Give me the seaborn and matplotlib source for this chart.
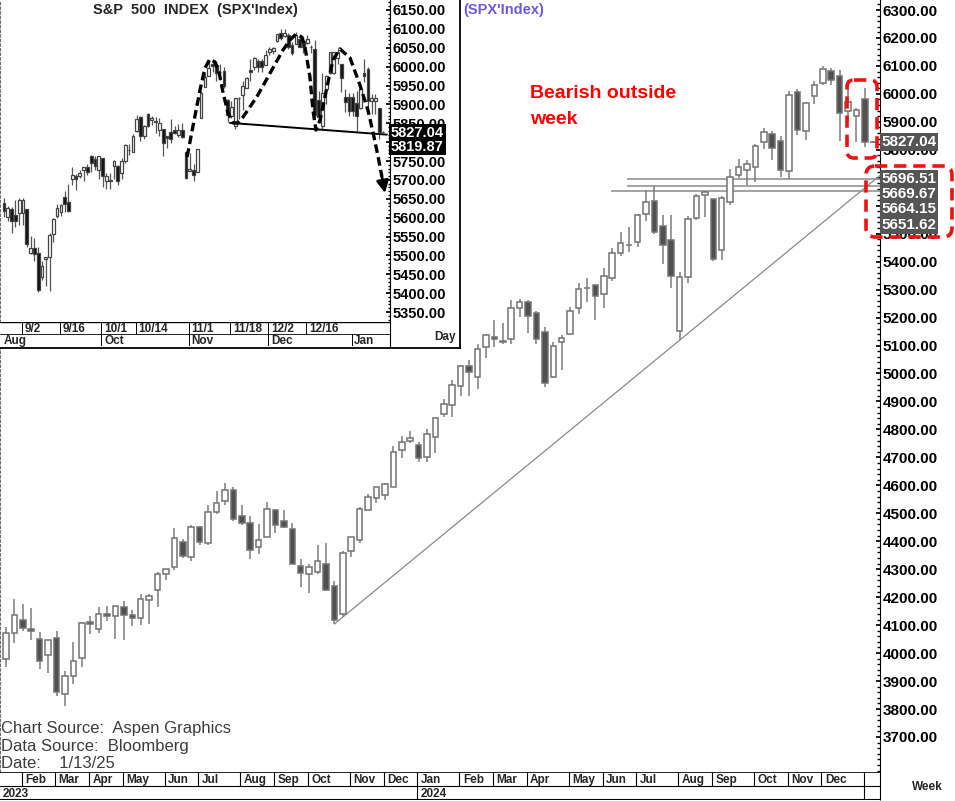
import numpy as np
import pandas as pd
import matplotlib
matplotlib.use("Agg")
import matplotlib.pyplot as plt
import seaborn as sns
from matplotlib.patches import FancyBboxPatch
from matplotlib.ticker import MultipleLocator
from matplotlib.transforms import blended_transform_factory

# ---------------- weekly SPX candles (Jan 23 2023 .. Jan 13 2025) ----------------
week_start = pd.date_range("2023-01-23", periods=104, freq="W-MON")
wk_open = [3978, 4071, 4119, 4085, 4052, 3993, 4055, 3855, 3917, 3982, 4110, 4085, 4140,
           4134, 4166, 4136, 4126, 4190, 4226, 4283, 4308, 4397, 4344, 4450, 4394, 4505,
           4543, 4585, 4491, 4464, 4381, 4415, 4510, 4473, 4445, 4311, 4284, 4289, 4320,
           4239, 4140, 4365, 4406, 4511, 4555, 4564, 4593, 4725, 4758, 4745, 4703, 4772,
           4854, 4886, 4957, 5026, 4989, 5094, 5130, 5111, 5123, 5235, 5257, 5217, 5149,
           4988, 5114, 5142, 5233, 5305, 5315, 5283, 5341, 5432, 5460, 5471, 5572, 5616,
           5528, 5477, 5151, 5345, 5557, 5639, 5623, 5442, 5615, 5711, 5726, 5737, 5829,
           5857, 5833, 5725, 6008, 5869, 5992, 6040, 6083, 6063, 5940, 5920, 5982, 5827]
wk_high = [4095, 4195, 4176, 4163, 4074, 4048, 4079, 3937, 4039, 4110, 4133, 4164, 4170,
           4170, 4187, 4155, 4213, 4213, 4290, 4299, 4448, 4409, 4458, 4456, 4528, 4578,
           4607, 4595, 4528, 4490, 4462, 4541, 4514, 4511, 4466, 4338, 4320, 4385, 4394,
           4259, 4366, 4415, 4521, 4568, 4595, 4609, 4739, 4778, 4793, 4755, 4802, 4842,
           4907, 4975, 5030, 5048, 5104, 5140, 5190, 5179, 5262, 5265, 5264, 5222, 5168,
           5114, 5139, 5239, 5325, 5342, 5315, 5376, 5447, 5506, 5524, 5570, 5655, 5670,
           5566, 5566, 5362, 5564, 5643, 5651, 5623, 5636, 5733, 5767, 5763, 5822, 5878,
           5866, 5850, 6012, 6017, 5972, 6045, 6100, 6092, 6085, 6049, 5949, 6021, 5832]
wk_low = [3949, 4037, 4079, 4048, 3943, 3928, 3846, 3809, 3889, 3951, 4069, 4072, 4114,
          4049, 4048, 4098, 4099, 4103, 4166, 4261, 4298, 4341, 4328, 4385, 4385, 4498,
          4528, 4474, 4458, 4335, 4356, 4415, 4431, 4446, 4317, 4238, 4216, 4284, 4223,
          4104, 4128, 4342, 4393, 4511, 4537, 4546, 4593, 4697, 4751, 4682, 4682, 4714,
          4845, 4845, 4918, 4920, 4946, 5057, 5094, 5105, 5107, 5203, 5146, 5107, 4953,
          4985, 5012, 5142, 5211, 5257, 5191, 5234, 5331, 5420, 5433, 5452, 5546, 5498,
          5391, 5306, 5119, 5324, 5550, 5560, 5403, 5406, 5604, 5698, 5675, 5686, 5804,
          5762, 5703, 5696, 5853, 5836, 5963, 6030, 6030, 5832, 5902, 5829, 5809, 5825]
wk_close = [4071, 4136, 4090, 4079, 3970, 4046, 3862, 3917, 3971, 4109, 4105, 4138, 4134,
            4169, 4136, 4124, 4192, 4205, 4282, 4299, 4410, 4348, 4450, 4399, 4505, 4536,
            4582, 4478, 4464, 4370, 4406, 4516, 4457, 4450, 4320, 4288, 4309, 4328, 4224,
            4117, 4358, 4415, 4514, 4559, 4595, 4604, 4719, 4755, 4770, 4697, 4784, 4840,
            4891, 4959, 5027, 5006, 5089, 5137, 5124, 5117, 5234, 5254, 5204, 5123, 4967,
            5100, 5128, 5223, 5303, 5305, 5278, 5347, 5432, 5465, 5460, 5567, 5615, 5505,
            5459, 5347, 5344, 5554, 5635, 5648, 5408, 5626, 5703, 5738, 5751, 5815, 5865,
            5808, 5729, 5996, 5871, 5969, 6032, 6090, 6051, 5931, 5971, 5942, 5827, 5829]

# trendline anchored on two weekly lows, horizontal support levels
trend_weeks = [39, 80]
support_levels = [5696.51, 5669.67, 5651.62]
support_start_week = [73.8, 73.8, 71.8]
main_last = 5827.04
main_levels_text = ["5696.51", "5669.67", "5664.15", "5651.62"]

# ---------------- daily SPX candles for the inset (Aug 26 2024 .. Jan 13 2025) ----------------
day_slots = pd.bdate_range("2024-08-26", "2025-01-13")
holidays = ["2024-09-02", "2024-11-28", "2024-12-25", "2025-01-01", "2025-01-09"]
d_open = [5639, 5602, 5624, 5607, 5612, 5623, 5506, 5520, 5507, 5442, 5490, 5496, 5557,
          5603, 5615, 5655, 5641, 5703, 5709, 5711, 5727, 5733, 5762, 5755, 5726, 5757,
          5698, 5698, 5737, 5737, 5719, 5751, 5778, 5775, 5829, 5866, 5816, 5875, 5859,
          5857, 5832, 5834, 5816, 5827, 5833, 5819, 5832, 5775, 5723, 5725, 5722, 5864,
          5947, 5976, 6008, 6003, 5985, 5989, 5912, 5869, 5844, 5918, 5924, 5944, 5992,
          6000, 6015, 6003, 6040, 6042, 6069, 6089, 6081, 6083, 6057, 6060, 6074, 6068,
          6063, 6052, 6047, 5912, 5843, 5940, 5984, 6024, 6006, 5920, 5920, 5903, 5891,
          5982, 5994, 5910, 5890, 5827]
d_high = [5651, 5631, 5628, 5646, 5651, 5623, 5552, 5546, 5522, 5484, 5497, 5560, 5600,
          5636, 5636, 5670, 5689, 5733, 5715, 5725, 5735, 5741, 5767, 5764, 5763, 5757,
          5719, 5718, 5753, 5739, 5757, 5796, 5795, 5822, 5871, 5870, 5846, 5878, 5870,
          5866, 5863, 5835, 5817, 5862, 5842, 5847, 5850, 5775, 5772, 5741, 5783, 5936,
          5983, 6012, 6017, 6009, 6008, 6000, 5915, 5909, 5917, 5920, 5963, 5972, 6020,
          6025, 6021, 6045, 6053, 6052, 6087, 6099, 6100, 6088, 6066, 6092, 6079, 6078,
          6085, 6057, 6070, 5935, 5982, 5978, 6040, 6049, 6006, 5941, 5929, 5935, 5949,
          6021, 6000, 5927, 5890, 5829]
d_low = [5602, 5590, 5560, 5576, 5581, 5521, 5503, 5485, 5403, 5434, 5420, 5406, 5535,
         5598, 5604, 5615, 5615, 5686, 5674, 5704, 5698, 5714, 5721, 5727, 5703, 5681,
         5677, 5675, 5702, 5686, 5703, 5745, 5765, 5775, 5827, 5804, 5808, 5840, 5846,
         5824, 5816, 5762, 5784, 5799, 5822, 5814, 5811, 5703, 5723, 5696, 5722, 5864,
         5947, 5976, 5986, 5961, 5965, 5944, 5853, 5865, 5836, 5860, 5884, 5944, 5963,
         5992, 5985, 6003, 6030, 6034, 6064, 6070, 6079, 6048, 6030, 6060, 6051, 6035,
         6059, 6035, 5867, 5866, 5832, 5902, 5981, 6007, 5932, 5879, 5868, 5829, 5888,
         5960, 5890, 5874, 5809, 5824]
d_close = [5617, 5626, 5592, 5592, 5648, 5529, 5520, 5503, 5408, 5471, 5496, 5554, 5596,
           5626, 5633, 5635, 5618, 5714, 5703, 5719, 5733, 5722, 5745, 5738, 5762, 5709,
           5710, 5700, 5751, 5696, 5751, 5792, 5780, 5815, 5860, 5815, 5843, 5842, 5865,
           5854, 5851, 5797, 5810, 5808, 5824, 5833, 5814, 5706, 5729, 5713, 5783, 5929,
           5973, 5996, 6001, 5984, 5985, 5949, 5871, 5894, 5917, 5917, 5949, 5969, 5987,
           6022, 5999, 6032, 6047, 6050, 6087, 6075, 6090, 6053, 6035, 6084, 6051, 6051,
           6074, 6051, 5872, 5867, 5931, 5974, 6040, 6038, 5971, 5907, 5882, 5869, 5942,
           5975, 5909, 5918, 5827, 5827]

day_tick_labels = ["9/2", "9/16", "10/1", "10/14", "11/1", "11/18", "12/2", "12/16"]
day_tick_dates = ["2024-09-02", "2024-09-16", "2024-10-01", "2024-10-14", "2024-11-01",
                  "2024-11-18", "2024-12-02", "2024-12-16"]
inset_month_labels = ["Oct", "Nov", "Dec", "Jan"]
inset_month_dates = ["2024-10-01", "2024-11-01", "2024-12-02", "2025-01-01"]
inset_last = ["5827.04", "5819.87"]

# head & shoulders sketch (slot, price) and neckline
hs_slot = [48.3, 49.9, 51.7, 53.0, 54.3, 55.7, 56.7, 57.8, 59.1, 60.4, 61.7, 63.1, 66.7,
           70.2, 73.6, 75.5, 77.0, 78.6, 79.4, 80.7, 81.5, 82.3, 83.4, 85.2, 86.8, 88.6,
           91.3, 93.9, 96.0, 97.4, 98.7, 99.7]
hs_price = [5761, 5845, 5938, 5996, 6020, 6012, 5986, 5930, 5877, 5851, 5851, 5867, 5920,
            5983, 6044, 6071, 6086, 6078, 6052, 5973, 5885, 5832, 5859, 5946, 6018, 6047,
            6023, 5951, 5885, 5824, 5761, 5708]
hs_tip = (100.5, 5665)
neck_slot = [59.6, 101.0]
neck_price = [5851, 5819.87]

# ---------------- layout helpers ----------------
W, H = 955, 801
MX0, MSTEP = 6, 8.42          # main chart: px of first week, px per week
IX0, ISTEP = 23, 3.79         # inset: px of 9/2 slot, px per weekday

sns.set_theme(style="white")
plt.rcParams["font.family"] = ["Liberation Sans", "DejaVu Sans"]

fig = plt.figure(figsize=(W / 100, H / 100), dpi=100)


def px_rect(x0, y0, x1, y1):
    return [x0 / W, 1 - y1 / H, (x1 - x0) / W, (y1 - y0) / H]


def draw_candles(ax, x, o, h, l, c, width, up_fc, dn_fc, edge, wick, lw):
    o, h, l, c = (np.asarray(v, dtype=float) for v in (o, h, l, c))
    up = c >= o
    ax.vlines(x, l, h, color=wick, lw=lw, zorder=2)
    ax.bar(x, np.abs(c - o), width, bottom=np.minimum(o, c),
           color=np.where(up, up_fc, dn_fc), edgecolor=edge, linewidth=lw, zorder=3)


# ---------------- main weekly chart ----------------
ax = fig.add_axes(px_rect(0, 0, 880, 772))
wx = np.arange(len(week_start))
draw_candles(ax, wx, wk_open, wk_high, wk_low, wk_close, 0.66,
             "white", "#505050", "#737373", "#7c7c7c", 1.1)
ax.set_xlim(-MX0 / MSTEP, (880 - MX0) / MSTEP)
ax.set_ylim(6300 - 762 / 0.2796, 6300 + 10 / 0.2796)

# trendline from the two swing lows, extended to the right edge
t0, t1 = trend_weeks
slope = (wk_low[t1] - wk_low[t0]) / (t1 - t0)
x_end = ax.get_xlim()[1]
trend = pd.DataFrame({"x": [t0, x_end], "y": [wk_low[t0], wk_low[t0] + slope * (x_end - t0)]})
sns.lineplot(data=trend, x="x", y="y", ax=ax, color="#8a8a8a", lw=0.9, zorder=1)
for lvl, xs in zip(support_levels, support_start_week):
    ax.hlines(lvl, xs, x_end, color="#8a8a8a", lw=1.1, zorder=1)

ax.yaxis.tick_right()
ax.set_yticks(np.arange(3700, 6301, 100))
ax.set_yticklabels([f"{v:.2f}" for v in np.arange(3700, 6301, 100)])
ax.yaxis.set_minor_locator(MultipleLocator(20))
ax.tick_params(axis="y", which="major", length=3, pad=2, labelsize=11, direction="in", colors="black")
ax.tick_params(axis="y", which="minor", length=2, direction="in", color="black")
for t in ax.get_yticklabels():
    t.set_fontweight("bold")
ax.set_xticks([])
ax.set_xlabel("")
ax.set_ylabel("")
for s in ["top", "bottom"]:
    ax.spines[s].set_visible(False)
ax.spines["right"].set_color("black")
ax.spines["right"].set_linewidth(0.8)
ax.spines["left"].set_linestyle(":")
ax.spines["left"].set_color("#555555")

bt = blended_transform_factory(ax.transAxes, ax.transData)
ax.text(1.0 + 1.5 / 880, main_last, f"{main_last:.2f}", transform=bt, ha="left", va="center",
        color="white", fontsize=11, fontweight="bold", zorder=10, clip_on=False,
        bbox=dict(boxstyle="square,pad=0.12", fc="#555555", ec="none"))
ax.annotate("\n".join(main_levels_text), xy=(1.0 + 1.5 / 880, support_levels[0]), xycoords=bt,
            xytext=(0, 5), textcoords="offset points", ha="left", va="top", color="white",
            fontsize=11, fontweight="bold", linespacing=1.12, zorder=10, annotation_clip=False,
            bbox=dict(boxstyle="square,pad=0.12", fc="#555555", ec="none"))

# main date band
axb = fig.add_axes(px_rect(0, 772, 880, 800))
axb.set_xlim(ax.get_xlim())
axb.set_ylim(2, 0)
axb.axis("off")
axb.axhline(0, color="black", lw=1.2)
axb.axhline(1, color="black", lw=0.8)
axb.axhline(2, color="black", lw=1.5)
months = pd.Series(week_start.month)
month_idx = [i for i in range(1, len(week_start)) if months[i] != months[i - 1]]
for i in month_idx:
    axb.vlines(i - 0.15, 0, 1, color="black", lw=0.8)
    if i <= 100:
        axb.text(i + 0.25, 0.55, week_start[i].strftime("%b"), ha="left", va="center",
                 fontsize=8.5, fontweight="bold")
year_idx = [i for i in month_idx if week_start[i].month == 1]
axb.text(axb.get_xlim()[0] + 0.3, 1.55, str(week_start[0].year), ha="left", va="center",
         fontsize=8.5, fontweight="bold")
for i in year_idx:
    axb.vlines(i - 0.15, 1, 2, color="black", lw=0.8)
    if i <= 100:
        axb.text(i + 0.25, 1.55, str(week_start[i].year), ha="left", va="center",
                 fontsize=8.5, fontweight="bold")

# ---------------- inset daily chart ----------------
bg = fig.add_axes(px_rect(0, 0, 460, 348))
bg.set_facecolor("white")
bg.set_xticks([])
bg.set_yticks([])
for s in ["top", "left"]:
    bg.spines[s].set_visible(False)
for s in ["right", "bottom"]:
    bg.spines[s].set_color("black")
    bg.spines[s].set_linewidth(1.3)

daily = pd.DataFrame({"o": d_open, "h": d_high, "l": d_low, "c": d_close},
                     index=day_slots.drop(pd.to_datetime(holidays)))
daily = daily.reindex(day_slots).ffill()
slot = np.arange(len(day_slots))
slot0 = day_slots.get_loc(pd.Timestamp("2024-09-02"))

axi = fig.add_axes(px_rect(0, 0, 390, 322))
axi.set_facecolor("white")
draw_candles(axi, slot, daily["o"], daily["h"], daily["l"], daily["c"], 0.72,
             "white", "#111111", "#444444", "#555555", 0.9)
axi.set_xlim(slot0 - IX0 / ISTEP, slot0 + (390 - IX0) / ISTEP)
axi.set_ylim(6150 - 312 * 2.649, 6150 + 10 * 2.649)

axi.plot(hs_slot, hs_price, color="black", lw=2.4, ls=(0, (2.6, 1.3)), zorder=5,
         solid_capstyle="butt", dash_capstyle="butt")
axi.annotate("", xy=hs_tip, xytext=(hs_slot[-1], hs_price[-1]),
             arrowprops=dict(arrowstyle="-|>,head_width=0.3,head_length=0.6", color="black",
                             lw=2.0, shrinkA=0, shrinkB=0), zorder=5)
sns.lineplot(x=neck_slot, y=neck_price, ax=axi, color="black", lw=1.4, zorder=5)

axi.yaxis.tick_right()
iticks = np.arange(5350, 6151, 50)
axi.set_yticks(iticks)
axi.set_yticklabels([f"{v:.2f}" for v in iticks])
axi.yaxis.set_minor_locator(MultipleLocator(10))
axi.tick_params(axis="y", which="major", length=3, pad=2, labelsize=10.5, direction="in", colors="black")
axi.tick_params(axis="y", which="minor", length=1.5, direction="in", color="black")
for t in axi.get_yticklabels():
    t.set_fontweight("bold")
axi.set_xticks([])
axi.set_xlabel("")
axi.set_ylabel("")
for s in ["top", "bottom"]:
    axi.spines[s].set_visible(False)
axi.spines["right"].set_color("black")
axi.spines["right"].set_linewidth(0.8)
axi.spines["left"].set_linestyle(":")
axi.spines["left"].set_color("#555555")

bti = blended_transform_factory(axi.transAxes, axi.transData)
axi.annotate("\n".join(inset_last), xy=(1.0 + 1 / 390, main_last), xycoords=bti,
             xytext=(0, 4.5), textcoords="offset points", ha="left", va="top", color="white",
             fontsize=10.5, fontweight="bold", linespacing=1.0, zorder=10, annotation_clip=False,
             bbox=dict(boxstyle="square,pad=0.12", fc="black", ec="none"))

axib = fig.add_axes(px_rect(0, 322, 390, 346))
axib.set_xlim(axi.get_xlim())
axib.set_ylim(2, 0)
axib.axis("off")
axib.axhline(0, color="black", lw=1.0)
axib.axhline(1, color="black", lw=0.6)
for lab, d in zip(day_tick_labels, day_tick_dates):
    s = day_slots.get_loc(pd.Timestamp(d))
    axib.vlines(s - 0.3, 0, 1, color="black", lw=0.7)
    axib.text(s + 0.4, 0.55, lab, ha="left", va="center", fontsize=8.5, fontweight="bold")
axib.text(axib.get_xlim()[0] + 1.0, 1.55, "Aug", ha="left", va="center", fontsize=8.5,
          fontweight="bold")
for lab, d in zip(inset_month_labels, inset_month_dates):
    s = day_slots.get_loc(pd.Timestamp(d))
    axib.vlines(s - 0.3, 1, 2, color="black", lw=0.7)
    axib.text(s + 0.4, 1.55, lab, ha="left", va="center", fontsize=8.5, fontweight="bold")

# ---------------- overlay (pixel coordinates) ----------------
ov = fig.add_axes([0, 0, 1, 1])
ov.set_xlim(0, W)
ov.set_ylim(H, 0)
ov.axis("off")
ov.patch.set_alpha(0)

ov.text(195, 10, "S&P  500  INDEX  (SPX'Index)", ha="center", va="center", fontsize=10.5,
        fontweight="bold")
ov.vlines(390, 322, 347, color="black", lw=0.8)
ov.text(445, 337, "Day", ha="center", va="center", fontsize=8.5, fontweight="bold")
ov.vlines(880, 772, 800, color="black", lw=0.8)
ov.text(927, 787, "Week", ha="center", va="center", fontsize=8.5, fontweight="bold")

ov.text(463, 10, "(SPX'Index)", ha="left", va="center", fontsize=10.5, fontweight="bold",
        color="#6a5ae0")
ov.text(530, 93, "Bearish outside", ha="left", va="center", fontsize=14, fontweight="bold",
        color="#ff0000")
ov.text(530, 119, "week", ha="left", va="center", fontsize=14, fontweight="bold", color="#ff0000")

narrow = ["Liberation Sans Narrow", "Liberation Sans", "DejaVu Sans"]
for yy, txt in zip([729, 746, 763], ["Chart Source:  Aspen Graphics", "Data Source:  Bloomberg",
                                     "Date:    1/13/25"]):
    ov.text(1, yy, txt, ha="left", va="center", fontsize=12, color="#3c3c3c", family=narrow)

red_box = dict(fc="none", ec="#ee1111", lw=2.6, ls=(0, (3.4, 1.9)))
ov.add_patch(FancyBboxPatch((847, 80), 30, 78, boxstyle="round,pad=0,rounding_size=7", **red_box))
ov.add_patch(FancyBboxPatch((866, 166), 86, 71, boxstyle="round,pad=0,rounding_size=9", **red_box))

fig.savefig("out.png", dpi=100, facecolor="white")
